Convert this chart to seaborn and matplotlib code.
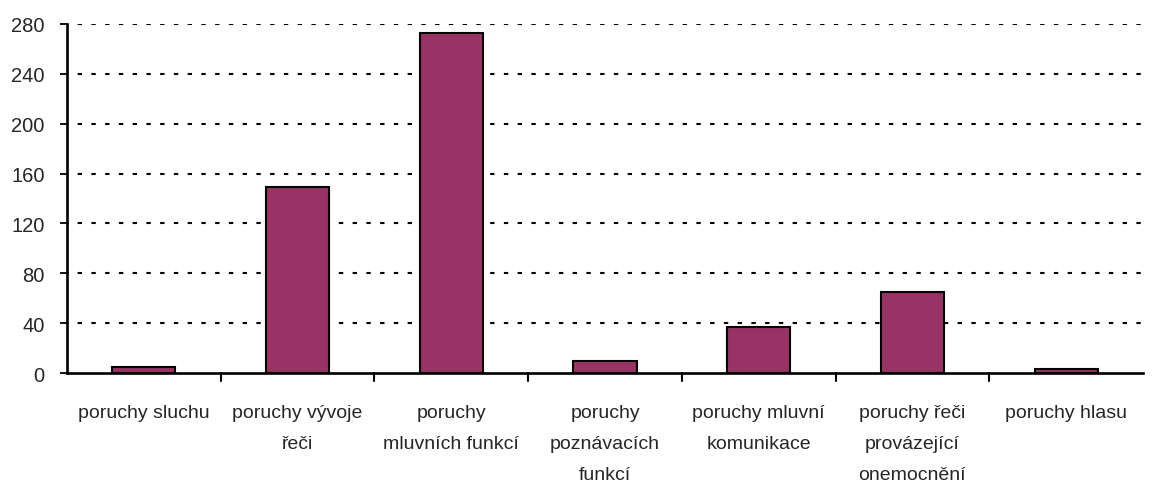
import matplotlib
matplotlib.use("Agg")
import matplotlib.pyplot as plt
import seaborn as sns
import pandas as pd
import numpy as np

categories = ["poruchy sluchu", "poruchy vývoje\nřeči", "poruchy\nmluvních funkcí",
              "poruchy\npoznávacích\nfunkcí", "poruchy mluvní\nkomunikace",
              "poruchy řeči\nprovázející\nonemocnění", "poruchy hlasu"]
values = [5, 149, 273, 10, 37, 65, 3]
yticks = [0, 40, 80, 120, 160, 200, 240, 280]

sns.set_style("white")
plt.rcParams['font.family'] = ['Liberation Sans', 'DejaVu Sans']

df = pd.DataFrame({"cat": categories, "val": values})
fig = plt.figure(figsize=(11.53, 4.85), dpi=100)
ax = fig.add_axes([67/1153, 1-374/485, (1143-67)/1153, (374-25)/485])

sns.barplot(data=df, x="cat", y="val", color="#993366", width=0.41,
            edgecolor="black", linewidth=1.5, saturation=1, ax=ax, zorder=3)

ax.set_ylim(0, 280)
ax.set_xlim(-0.5, len(categories) - 0.5)
ax.set_yticks(yticks)
ax.set_yticklabels([str(v) for v in yticks], fontsize=14.5)
for v in yticks[1:]:
    ax.axhline(v, color="black", linestyle=(1.5, (2.1, 4.5)), linewidth=1.5, zorder=1)

ax.set_xticks(range(len(categories)))
ax.set_xticklabels(categories, fontsize=14, linespacing=2.08, va="top")
ax.tick_params(axis="x", length=0, pad=22)
ax.tick_params(axis="y", length=5, width=1.3, color="black", direction="out", left=True, pad=11)
for b in np.arange(0.5, len(categories) - 0.5, 1.0):
    ax.plot([b, b], [0, -0.022], transform=ax.get_xaxis_transform(), color="black",
            linewidth=1.5, clip_on=False)

ax.set_xlabel("")
ax.set_ylabel("")
for s in ["top", "right"]:
    ax.spines[s].set_visible(False)
for s in ["left", "bottom"]:
    ax.spines[s].set_color("black")
    ax.spines[s].set_linewidth(1.9)
    ax.spines[s].set_zorder(4)

fig.savefig("out.png", dpi=100)
